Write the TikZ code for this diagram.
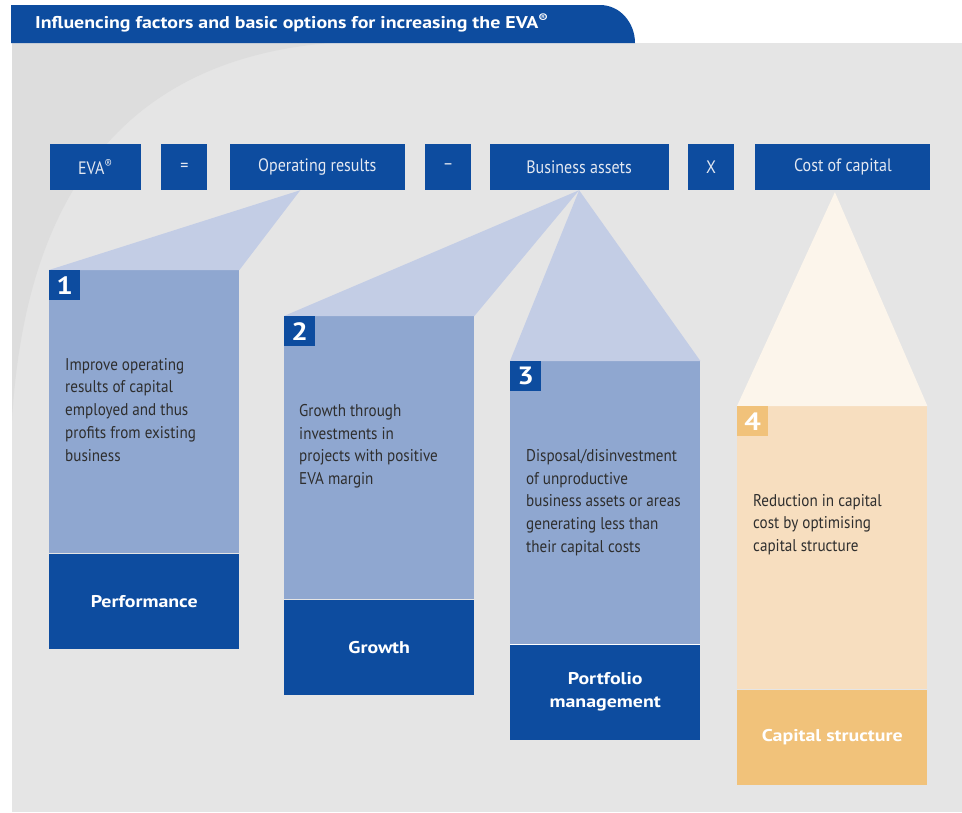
\documentclass[tikz,border=0pt]{standalone}
\usepackage{fontspec}
\setmainfont[FakeStretch=0.89,BoldFeatures={FakeStretch=1.17}]{PT Sans}
\usetikzlibrary{positioning}

\definecolor{evablue}{HTML}{0D4C9F}
\definecolor{panelblue}{HTML}{8FA7D0}
\definecolor{funnelblue}{HTML}{C3CDE5}
\definecolor{evaorange}{HTML}{F1C27A}
\definecolor{panelorange}{HTML}{F7DEBF}
\definecolor{funnelorange}{HTML}{FCF5EB}
\definecolor{bggray}{HTML}{E5E5E5}
\definecolor{bgdark}{HTML}{DDDDDD}
\definecolor{bodygray}{HTML}{2E2E2E}
\definecolor{boxtext}{HTML}{E3E8F1}

\begin{document}
\begin{tikzpicture}[x=1pt,y=-1pt,line join=round]
        \tikzset{termbox/.style={fill=evablue,text=boxtext,minimum height=46pt,inner sep=0pt,font=\fontsize{18}{20}\selectfont},
            bodybox/.style={minimum width=190pt,minimum height=283pt,inner sep=0pt,anchor=north west},
            labelbox/.style={minimum width=190pt,minimum height=95pt,inner sep=0pt,anchor=north west,text=white,align=center,font=\bfseries\fontsize{17}{23}\selectfont},
            numbox/.style={minimum width=31pt,minimum height=30pt,inner sep=0pt,anchor=north west,text=white,font=\bfseries\fontsize{25}{25}\selectfont},
            bodytext/.style={anchor=north west,align=left,text=bodygray,inner sep=0pt,font=\fontsize{17}{22.7}\selectfont}}
        \useasboundingbox (0,0) rectangle (962,812);
        % background and title bar
        \fill[bggray] (12,43) rectangle (962,812);
        \fill[bgdark] (12,43) -- (330,43) .. controls (120,60) and (25,200) .. (12,420) -- cycle;
        \fill[evablue] (11,5) -- (600,5) to[out=0,in=90] (635,43) -- (11,43) -- cycle;
        \node[anchor=west,text=white,inner sep=0pt,font=\bfseries\fontsize{17}{20}\selectfont] (title) at (35,23) {Influencing factors and basic options for increasing the EVA\textsuperscript{®}};
        % the formula
        \node[termbox,minimum width=91pt] (eva) at (95.5,167) {EVA\textsuperscript{®}};
        \node[termbox,minimum width=46pt,right=20pt of eva] (eq) {=};
        \node[termbox,minimum width=175pt,right=22pt of eq] (ops) {Operating results};
        \node[termbox,minimum width=46pt,right=20pt of ops] (minus) {–};
        \node[termbox,minimum width=179pt,right=18pt of minus] (assets) {Business assets};
        \node[termbox,minimum width=46pt,right=19pt of assets] (times) {X};
        \node[termbox,minimum width=175pt,right=21pt of times] (coc) {Cost of capital};
        \coordinate (apex1) at ([xshift=-17pt]ops.south);
        \coordinate (apex2) at (assets.south);
        \coordinate (apex3) at (assets.south);
        \coordinate (apex4) at ([xshift=-8pt,yshift=-2pt]coc.south);
        % the four options
        \foreach \i/\px/\py/\fun/\bod/\drk/\lab in {1/49/270/funnelblue/panelblue/evablue/Performance,
            2/284/316/funnelblue/panelblue/evablue/Growth,
            3/510/361/funnelblue/panelblue/evablue/{Portfolio\\management},
            4/737/406/funnelorange/panelorange/evaorange/{Capital structure}}{
            \node[bodybox,fill=\bod] (body\i) at (\px,\py) {};
            \fill[\fun] (apex\i) -- (body\i.north west) -- (body\i.north east) -- cycle;
            \node[numbox,fill=\drk] (num\i) at (body\i.north west) {\i};
            \node[labelbox,fill=\drk] (lab\i) at (body\i.south west) {\lab};
        }
        \draw[white,line width=1.2pt] (lab3.north west) -- (lab3.north east);
        \node[bodytext] (txt1) at ([xshift=16pt,yshift=-88pt]body1.north west) {Improve operating\\results of capital\\employed and thus\\profits from existing\\business};
        \node[bodytext] (txt2) at ([xshift=15pt,yshift=-88pt]body2.north west) {Growth through\\investments in\\projects with positive\\EVA margin};
        \node[bodytext] (txt3) at ([xshift=16pt,yshift=-88pt]body3.north west) {Disposal/disinvestment\\of unproductive\\business assets or areas\\generating less than\\their capital costs};
        \node[bodytext] (txt4) at ([xshift=16pt,yshift=-88pt]body4.north west) {Reduction in capital\\cost by optimising\\capital structure};
    \end{tikzpicture}
\end{document}
